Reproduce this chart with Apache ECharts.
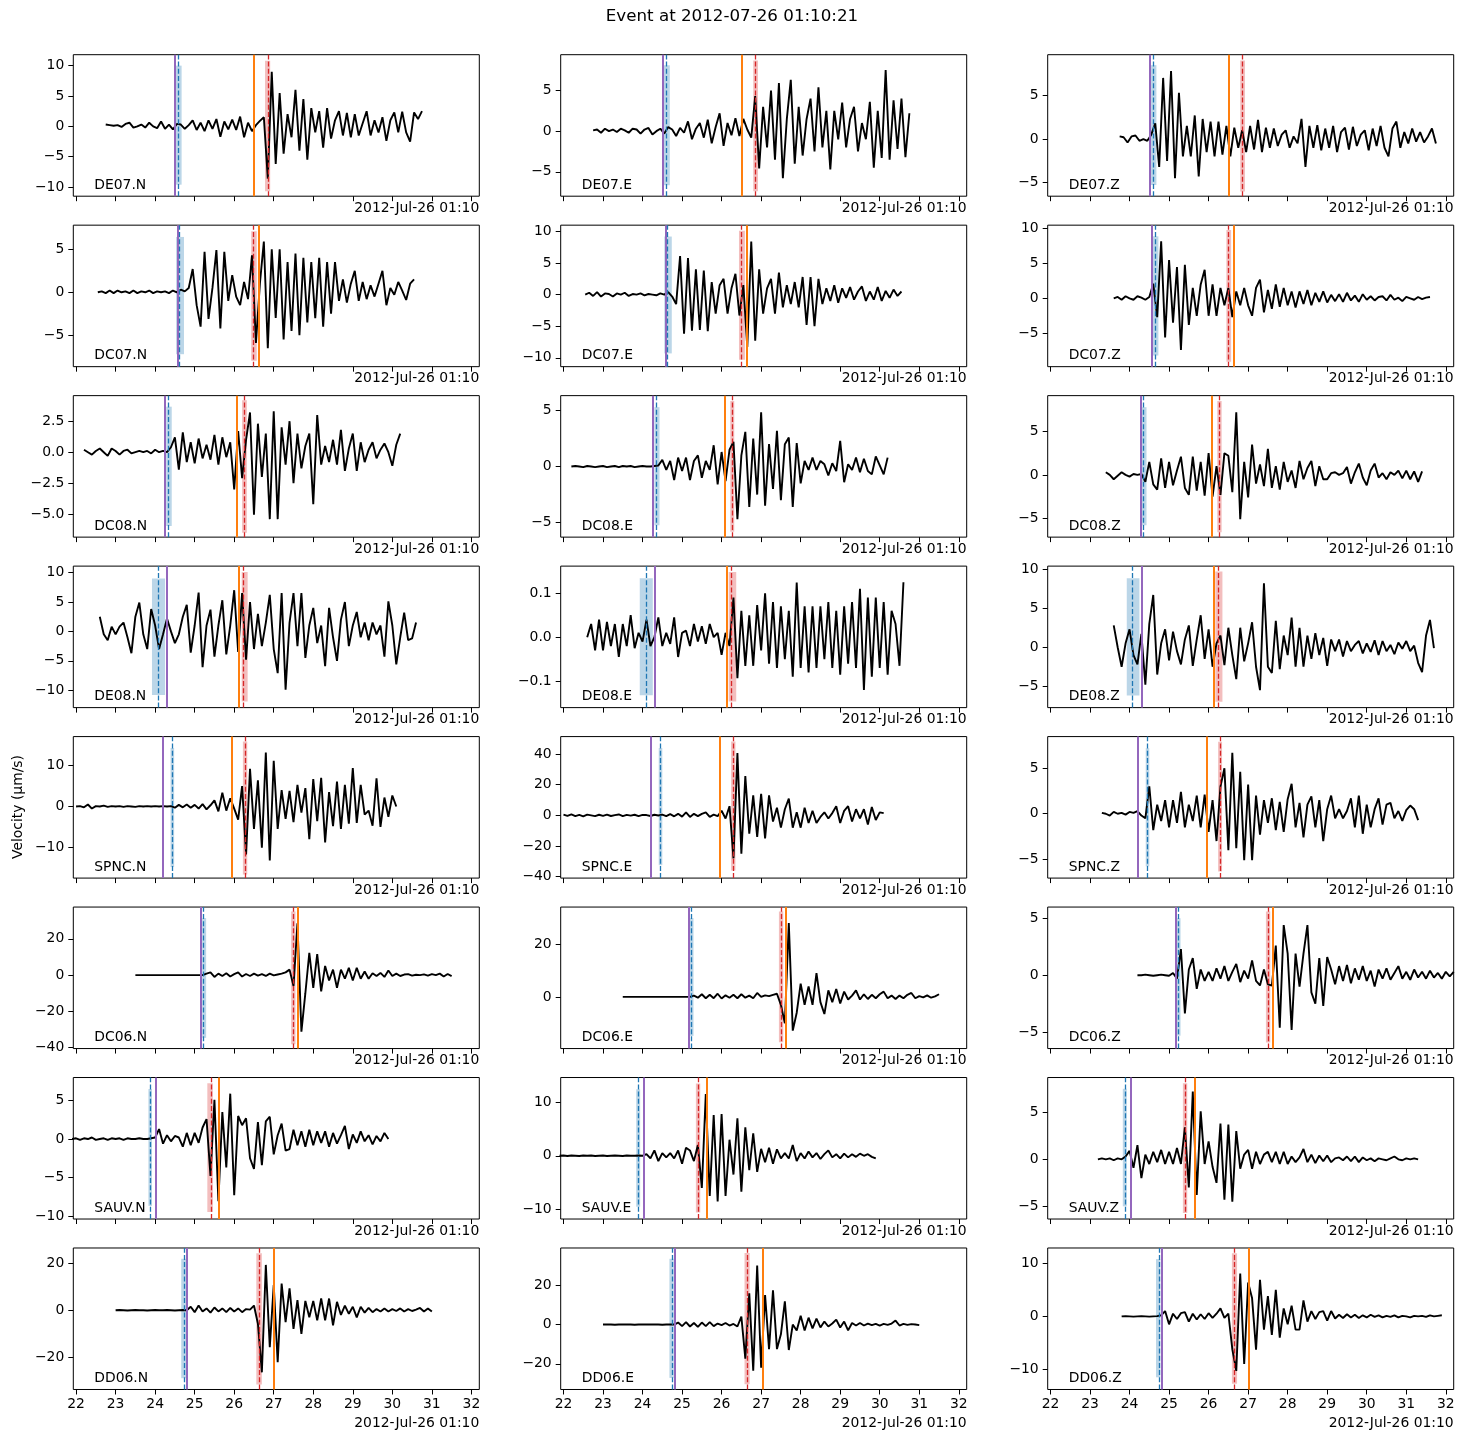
<!DOCTYPE html>
<html><head><meta charset="utf-8">
<script src="https://cdn.jsdelivr.net/npm/echarts@6/dist/echarts.min.js"></script>
<style>html,body{margin:0;padding:0;background:#fff}#chart{width:1463px;height:1441px}</style>
</head><body><div id="chart"></div>
<script>
// ---------------- DATA ----------------
const title = 'Event at 2012-07-26 01:10:21';
const offsetText = '2012-Jul-26 01:10';
const yLabel = 'Velocity (\u03bcm/s)';
const xTicks = [22,23,24,25,26,27,28,29,30,31,32];
const xRange = [21.93, 32.2];
const sampleStep = 0.1;

const stations = ['DE07.N','DE07.E','DE07.Z','DC07.N','DC07.E','DC07.Z','DC08.N','DC08.E','DC08.Z',
  'DE08.N','DE08.E','DE08.Z','SPNC.N','SPNC.E','SPNC.Z','DC06.N','DC06.E','DC06.Z',
  'SAUV.N','SAUV.E','SAUV.Z','DD06.N','DD06.E','DD06.Z'];

const traceStart = [22.75,22.75,23.75, 22.55,22.55,23.6, 22.2,22.2,23.4, 22.6,22.6,23.6,
  22.0,22.0,23.3, 23.5,23.5,24.2, 21.9,21.9,23.2, 23.0,23.0,23.8];

const yLimits = [[-11.5,11.8],[-8.0,9.4],[-6.55,9.66],[-8.65,7.8],[-11.4,11.0],[-9.8,10.5],
  [-6.85,4.56],[-6.3,6.33],[-7.17,9.13],[-12.96,11.1],[-0.16,0.1616],[-7.74,10.4],
  [-17.5,17.1],[-40.9,51.4],[-7.07,8.48],[-40.5,37.5],[-19.6,34.1],[-6.43,5.98],
  [-10.4,8.0],[-11.8,14.6],[-6.35,8.7],[-33.7,26.5],[-33.1,39.0],[-13.8,12.9]];

const yTicks = [[-10,-5,0,5,10],[-5,0,5],[-5,0,5],[-5,0,5],[-10,-5,0,5,10],[-5,0,5,10],
  [-5,-2.5,0,2.5],[-5,0,5],[-5,0,5],[-10,-5,0,5,10],[-0.1,0,0.1],[-5,0,5,10],
  [-10,0,10],[-40,-20,0,20,40],[-5,0,5],[-40,-20,0,20],[0,20],[-5,0,5],
  [-10,-5,0,5],[-10,0,10],[-5,0,5],[-20,0,20],[-20,0,20],[-10,0,10]];
const yDecimals = [0,0,0,0,0,0,1,0,0,0,1,0,0,0,0,0,0,0,0,0,0,0,0,0];

// theoretical P (purple), picked P (blue dashed), theoretical S (orange), picked S (red dashed)
const pTheo = [24.50,24.51,24.52,24.57,24.59,24.57,24.25,24.27,24.28,24.29,24.32,24.30,
  24.19,24.21,24.20,25.16,25.17,25.17,24.02,24.03,24.03,24.80,24.82,24.81];
const pPick = [24.59,24.60,24.60,24.61,24.63,24.64,24.34,24.35,24.34,24.09,24.09,24.08,
  24.44,24.45,24.44,25.22,25.23,25.23,23.88,23.89,23.89,24.74,24.75,24.75];
const sTheo = [26.50,26.51,26.51,26.63,26.64,26.63,26.06,26.09,26.07,26.12,26.13,26.13,
  25.94,25.96,25.95,27.62,27.63,27.62,25.62,25.63,25.65,27.00,27.03,27.01];
const sPick = [26.85,26.86,26.85,26.49,26.50,26.50,26.26,26.27,26.27,26.23,26.25,26.24,
  26.28,26.30,26.29,27.50,27.51,27.51,25.41,25.41,25.40,26.64,26.65,26.65];
// uncertainty boxes [t0, t1, vLow, vHigh]
const pBox = [[24.52,24.67,-9.6,10.0],[24.53,24.69,-6.65,8.1],[24.54,24.68,-5.27,8.46],
  [24.53,24.73,-7.2,6.43],[24.55,24.74,-9.3,9.2],[24.55,24.73,-8.2,8.9],
  [24.28,24.42,-5.95,3.67],[24.30,24.43,-5.24,5.3],[24.31,24.43,-5.8,7.8],
  [23.92,24.25,-10.8,9.0],[23.93,24.26,-0.132,0.134],[23.93,24.25,-6.2,8.85],
  [24.39,24.48,-14.8,14.3],[24.41,24.50,-32.5,43.9],[24.41,24.50,-5.77,7.2],
  [25.19,25.29,-34.6,31.4],[25.20,25.29,-14.8,29.9],[25.20,25.29,-5.3,5.0],
  [23.83,23.92,-8.7,6.5],[23.84,23.94,-9.5,12.4],[23.83,23.93,-5.0,7.5],
  [24.66,24.78,-28.9,21.9],[24.68,24.79,-27.2,33.5],[24.67,24.78,-11.5,10.8]];
const sBox = [[26.78,26.91,-10.7,10.8],[26.80,26.92,-7.4,8.7],[26.80,26.92,-6.0,9.0],
  [26.43,26.57,-7.95,7.1],[26.44,26.59,-10.3,10.1],[26.45,26.57,-9.1,9.8],
  [26.20,26.32,-6.5,4.18],[26.22,26.32,-5.83,5.86],[26.22,26.33,-6.6,8.5],
  [26.19,26.34,-11.9,10.1],[26.18,26.37,-0.146,0.148],[26.17,26.35,-7.0,9.7],
  [26.22,26.33,-16.6,15.9],[26.24,26.35,-35.9,48.2],[26.24,26.34,-6.35,7.9],
  [27.44,27.55,-38.1,35.1],[27.45,27.56,-17.2,32.4],[27.45,27.56,-5.9,5.6],
  [25.32,25.46,-9.48,7.24],[25.35,25.46,-10.6,13.5],[25.35,25.46,-5.7,8.1],
  [26.56,26.70,-31.6,24.3],[26.58,26.71,-30.4,36.4],[26.59,26.72,-12.7,11.9]];

// velocity samples (um/s), one every sampleStep seconds from traceStart
const DE07_N = [0.3,0.2,0.1,0.2,-0.1,0.4,0.6,-0.2,0.0,0.3,-0.2,0.6,0.0,-0.3,0.8,-0.4,0.3,-0.5,0.4,0.3,
 -0.4,0.2,1.0,-0.6,0.6,-0.8,1.0,-0.4,1.2,-1.7,0.8,-0.5,1.1,-0.6,1.6,-1.8,0.6,-0.8,0.2,0.9,
 1.5,-8.6,9.0,-6.2,5.5,-4.5,2.0,-1.8,6.0,-4.0,4.5,-5.5,3.0,-1.0,2.5,-3.5,3.0,-2.0,1.0,2.5,
 -1.5,2.2,-1.8,2.0,-1.5,0.5,2.5,-1.5,1.0,-1.0,1.5,-2.4,1.0,2.3,-1.0,2.4,-1.0,-2.5,2.3,1.2,2.5];
const DE07_E = [0.1,0.2,-0.2,0.3,0.0,0.2,-0.1,0.3,0.1,-0.2,0.3,0.2,-0.3,0.2,0.4,-0.4,0.0,0.3,-0.3,0.5,
 0.2,-0.6,0.4,-0.2,1.2,-1.0,0.3,1.0,-0.8,1.4,-1.5,0.5,2.2,-1.8,1.0,-0.5,1.6,-0.6,1.5,0.2,
 -0.8,4.3,-4.6,3.0,-2.0,5.0,-3.5,5.9,-5.8,1.5,6.3,-4.0,3.0,-3.0,1.5,4.0,-2.5,5.4,-2.0,2.5,
 -4.7,2.5,-1.0,3.5,-2.0,1.5,3.0,-2.5,1.0,-1.0,3.6,-4.5,2.5,-3.3,7.5,-3.5,3.8,-2.2,4.0,-3.2,2.2];
const DE07_Z = [0.3,0.2,-0.4,0.3,0.4,-0.2,0.0,-0.2,0.5,1.8,-3.2,7.0,-2.5,7.8,-4.5,5.3,-2.0,1.5,-2.0,2.7,
 -4.3,2.3,-1.5,2.0,-2.0,2.0,-1.8,1.5,-2.0,1.3,-1.0,1.0,-1.5,1.5,-1.2,2.2,-1.5,1.3,-1.0,1.2,
 -0.8,0.5,1.0,-1.0,0.3,-0.5,2.3,-3.2,1.5,-1.0,1.6,-1.3,1.2,-1.0,1.5,-1.5,0.8,1.3,-1.2,1.4,
 -0.8,0.5,1.0,-1.3,1.2,-0.8,1.5,-1.0,-2.0,1.2,2.0,-1.0,0.8,-0.5,1.2,-0.3,0.8,-0.4,0.3,1.2,-0.5];
const DC07_N = [0.0,0.1,-0.1,0.2,-0.1,0.2,0.0,0.1,-0.1,0.2,-0.1,0.1,0.0,0.2,-0.1,0.1,0.0,0.1,-0.1,0.2,
 0.0,0.3,0.1,0.5,2.7,-1.5,-4.0,4.7,-3.1,0.5,4.9,-4.2,4.7,-1.0,2.0,-0.5,-1.5,1.2,-0.8,4.3,
 -5.9,1.0,5.9,-6.5,5.0,-3.0,5.0,-5.5,3.5,-4.5,4.5,-5.0,4.0,-3.5,3.5,-3.0,4.0,-4.0,3.5,-2.5,
 3.5,-1.0,1.5,-1.2,1.0,2.5,-1.0,1.2,-0.8,0.8,-0.5,1.0,2.5,-1.5,0.5,-0.3,1.2,0.2,-0.9,1.0,1.5];
const DC07_E = [0.0,0.3,-0.2,0.4,-0.3,0.2,0.1,-0.3,0.2,0.0,0.3,-0.2,0.1,0.0,0.2,-0.1,0.1,0.0,-0.1,0.2,
 0.0,0.4,-0.3,-1.5,6.1,-6.2,5.8,-5.7,4.0,-5.6,3.8,-5.8,2.0,-3.0,1.5,2.5,-3.0,1.0,3.3,-3.3,
 1.5,-8.3,8.4,-7.3,4.0,-3.0,1.0,2.5,-3.0,3.5,-2.0,1.5,-1.5,2.0,-2.0,2.8,-4.8,2.8,-5.0,2.5,
 -1.5,1.0,-1.0,1.5,-1.3,1.0,-0.5,1.2,-0.8,0.5,1.3,-1.0,0.5,-0.8,1.2,-1.0,0.6,-0.5,0.8,-0.2,0.5];
const DC07_Z = [0.0,0.2,-0.2,0.3,0.0,-0.2,0.3,0.1,-0.2,0.2,2.1,-2.7,8.2,-5.6,5.5,-3.5,4.5,-7.4,4.8,-3.8,
 1.5,-2.5,2.0,4.1,-2.5,2.0,-2.5,1.5,-1.0,1.5,-2.7,1.0,-1.0,1.5,-1.0,-2.5,1.5,2.7,-2.0,1.2,
 -1.5,2.0,-1.2,1.5,-1.0,1.0,-1.3,1.0,-0.8,1.2,-1.0,0.8,-0.5,1.0,-0.6,0.5,-0.4,0.6,-0.5,0.8,
 -0.3,0.4,-0.5,0.6,-0.2,0.3,-0.3,0.2,0.3,-0.3,0.5,-0.2,0.1,-0.4,0.2,0.0,-0.2,0.2,-0.1,0.1,0.2];
const DC08_N = [0.2,0.0,-0.2,0.1,0.3,0.0,-0.3,0.3,0.1,-0.2,0.1,0.2,-0.1,0.0,0.1,0.0,0.1,-0.1,0.2,0.0,
 0.1,0.0,0.4,1.2,-1.4,1.6,-0.8,0.8,-0.9,1.1,-0.5,0.6,-0.6,1.4,-1.0,1.2,-0.4,0.8,-3.0,1.7,
 -2.1,1.0,3.2,-5.05,2.3,-2.0,1.5,-5.4,3.3,-5.4,2.0,-1.0,2.5,-2.5,1.5,-1.3,0.5,1.5,-4.2,3.0,
 -1.0,0.5,-0.8,1.0,-1.0,1.8,-1.5,0.3,1.5,-1.5,0.8,-0.8,0.2,0.8,-0.5,0.2,0.7,0.0,-1.1,0.6,1.5];
const DC08_E = [0.0,0.05,0.0,-0.05,0.05,0.0,-0.05,0.0,0.05,-0.05,0.0,0.05,-0.05,0.05,0.0,0.05,-0.05,0.0,0.05,0.0,
 0.0,0.05,0.1,0.6,-0.3,0.5,-1.2,0.8,-0.4,0.8,-1.2,0.5,1.0,-1.0,0.5,-0.3,1.9,-1.6,1.3,-1.3,
 1.5,2.2,-4.7,1.0,3.1,-3.6,2.5,-2.5,4.85,-3.5,2.0,-2.0,3.2,-3.0,2.0,2.6,-3.6,2.1,-1.5,0.5,
 -0.3,0.8,-0.3,0.5,0.2,-0.8,0.3,-0.4,2.3,-1.4,0.2,-0.3,0.8,-0.5,0.7,-0.4,-0.7,0.9,0.1,-0.7,0.8];
const DC08_Z = [0.3,0.0,-0.5,-0.1,0.3,0.0,-0.2,0.1,0.0,0.1,-0.8,1.5,-1.1,-1.7,1.9,-1.5,1.5,-1.2,0.5,2.1,
 -1.5,-2.3,2.1,-1.8,1.5,-2.4,2.5,-2.5,1.0,-2.3,2.5,2.2,-2.0,7.2,-5.1,1.5,-2.6,3.5,-1.0,1.2,
 -1.3,3.0,-1.5,1.0,-1.7,1.5,-0.8,0.5,-1.5,1.6,-0.5,0.8,1.6,-1.3,1.0,-0.5,-0.5,0.2,0.3,0.0,
 0.2,0.9,-1.0,0.3,1.3,-0.3,-1.2,0.5,1.3,-0.3,0.2,-0.5,0.3,0.0,0.5,-0.4,0.5,-0.5,0.4,-0.8,0.4];
const DE08_N = [2.5,-0.5,-1.5,0.8,-0.5,0.8,1.5,-1.0,-3.7,2.5,4.9,-0.5,-3.0,3.8,1.0,-3.0,-0.5,2.2,0.0,-2.0,
 -0.5,2.5,4.5,-3.6,1.0,6.6,-6.1,1.0,3.7,-4.3,1.0,5.3,-3.9,1.0,7.0,-3.5,6.5,-4.8,5.0,-3.0,
 3.0,-2.5,1.5,6.2,-3.0,-7.1,6.5,-9.9,1.5,6.5,-2.5,6.5,-4.5,1.0,4.0,-2.0,1.0,-5.9,4.0,-1.0,
 -5.0,2.0,5.0,-2.5,1.0,3.3,-1.0,1.5,-1.5,1.5,-0.5,1.0,-4.3,5.1,1.0,-5.6,-1.0,3.2,-1.5,-1.2,1.5];
const DE08_E = [0.0,0.03,-0.03,0.04,-0.03,0.035,-0.02,0.03,-0.045,0.03,-0.02,0.05,-0.025,0.01,-0.01,0.04,-0.02,0.0,0.045,-0.02,
 0.01,-0.015,0.045,-0.045,0.01,0.015,-0.02,0.03,-0.01,0.025,-0.015,0.03,0.0,0.01,-0.04,0.01,-0.02,0.09,-0.093,0.06,
 -0.065,0.05,-0.065,0.073,-0.03,0.1,-0.06,0.08,-0.07,0.07,-0.05,0.06,-0.09,0.124,-0.07,0.07,-0.08,0.07,-0.07,0.07,
 -0.05,0.08,-0.07,0.06,-0.085,0.07,-0.06,0.08,-0.07,0.11,-0.12,0.09,-0.09,0.09,-0.07,0.08,-0.085,0.06,0.03,-0.065,0.125];
const DE08_Z = [2.8,0.0,-2.5,0.5,2.3,-1.0,-2.2,1.7,-4.8,3.0,6.7,-3.5,0.5,2.3,-1.7,2.0,-0.5,-2.2,1.0,2.8,
 -2.4,1.0,4.1,-1.5,2.3,-2.5,0.5,1.5,-2.3,2.5,-1.0,-4.1,2.5,-1.8,0.5,3.2,-2.5,-5.5,8.2,-2.5,
 -3.3,3.4,-2.8,1.5,-1.0,3.8,-2.5,2.5,-2.5,1.5,-1.5,1.8,-1.0,1.2,-2.4,1.0,-0.5,1.0,-1.2,0.8,
 -0.5,0.3,0.8,-0.8,0.5,-0.6,0.9,-1.0,0.8,-0.5,0.3,-0.9,0.6,-0.2,0.8,-0.5,0.2,-2.0,-3.2,1.5,3.5,-0.1];
const SPNC_N = [0.0,0.1,-0.2,0.5,-0.5,0.1,0.0,0.2,-0.1,0.1,0.0,0.1,-0.1,0.1,0.0,-0.1,0.1,0.0,0.1,0.0,
 0.1,0.0,0.1,0.0,0.1,-0.3,0.4,-0.2,0.5,-0.3,0.4,-0.5,0.6,-0.7,0.3,1.5,-1.2,3.4,-1.0,2.0,
 -0.5,-3.2,5.0,-11.7,9.2,-5.5,6.4,-10.1,13.2,-13.2,11.2,-5.5,4.0,-3.0,3.8,-3.8,5.3,-1.5,4.5,-8.0,
 6.7,-3.6,7.0,-8.8,3.5,-4.8,6.1,-5.5,5.3,-4.2,9.4,-4.0,5.3,-2.0,-1.0,-4.7,6.9,-5.0,2.2,-2.5,2.7,0.0];
const SPNC_E = [0.5,-0.3,0.6,-0.5,0.3,-0.6,0.5,0.0,-0.5,0.4,-0.3,0.5,-0.4,0.2,0.6,-0.5,0.3,-0.2,0.4,-0.5,
 0.3,0.2,-0.4,0.4,-0.1,0.5,-0.5,0.8,-0.6,1.0,-0.8,2.0,-1.0,1.0,-0.5,1.0,2.0,-1.0,0.5,-0.5,
 3.0,-2.0,6.0,-28.0,40.6,-25.0,25.6,-12.0,13.0,-14.0,14.0,-15.0,13.0,-4.0,5.0,-8.0,4.0,11.0,-8.0,2.0,
 -8.0,5.0,-5.0,3.0,-5.0,-1.0,2.0,-2.0,1.5,6.0,-5.0,3.0,6.0,-4.0,4.0,-2.0,4.0,-6.0,5.5,-3.0,2.0,1.5];
const SPNC_Z = [0.1,0.0,-0.2,0.2,0.0,0.1,-0.1,0.2,0.1,0.3,-0.2,-0.5,3.0,-1.8,1.0,-0.8,1.5,-1.5,1.5,-1.0,
 2.4,-1.5,1.0,-0.8,2.0,-1.5,2.1,-2.0,1.5,-3.0,3.0,5.0,-4.0,6.7,-3.8,4.6,-5.1,3.2,-5.1,2.0,
 -2.3,1.5,-1.0,1.7,-1.8,1.3,-2.0,1.6,3.3,-1.5,1.2,-2.6,1.0,1.9,-1.5,1.5,-3.0,0.5,2.0,-0.5,
 0.5,-0.5,0.3,1.7,-1.5,2.0,-2.2,1.0,-1.5,0.5,1.7,-1.2,1.0,1.2,-0.5,0.3,-0.8,0.4,0.9,0.5,-0.7];
const DC06_N = [0,0,0,0,0,0,0,0,0,0,0,0,0,0,0,0,0,0.0,0.8,1.5,
 -1.0,0.8,-0.5,1.0,-0.8,0.5,1.5,-0.8,0.6,-0.5,0.8,-0.3,0.5,-0.5,0.8,-0.2,0.3,0.8,1.5,3.0,
 -6.0,28.6,-31.2,-10.0,12.3,-7.0,11.5,-9.0,5.0,-3.0,3.0,-7.0,3.0,-2.0,4.0,-3.0,4.0,-2.0,2.0,-2.0,
 1.0,-0.5,1.2,-1.0,2.5,-0.5,0.8,-0.5,0.3,0.5,-0.3,0.2,0.0,0.4,-0.3,0.5,0.0,0.8,-0.8,0.6,-0.6];
const DC06_E = [0,0,0,0,0,0,0,0,0,0,0,0,0,0,0,0,0,0.0,0.5,-0.3,
 1.0,-0.5,0.8,-0.5,1.2,-0.6,0.6,-0.3,0.8,-0.5,1.0,-0.3,0.5,-0.5,1.5,0.0,0.6,0.3,0.8,1.2,
 -3.0,-10.0,28.0,-12.8,-6.0,5.0,-3.0,4.0,-3.0,9.0,-2.0,-6.5,2.5,-2.0,3.0,-2.5,2.0,-1.0,0.5,2.5,
 -1.0,1.0,-0.8,0.8,-0.5,1.0,2.0,-0.5,0.5,-0.8,0.5,-0.5,0.8,1.5,-0.5,0.3,-0.2,0.6,-0.3,0.2,1.0];
const DC06_Z = [0.0,0.0,0.05,0.0,-0.05,0.0,0.05,0.0,-0.05,0.2,-0.3,2.3,-3.35,0.5,1.5,-1.2,0.5,-0.5,0.3,-0.5,
 0.6,-0.3,0.8,-0.5,0.3,1.0,-0.6,0.4,-0.3,1.3,-0.5,-0.9,0.5,-0.8,-0.9,2.6,-4.6,4.4,1.9,-4.8,
 1.9,-1.0,1.9,4.4,-1.5,-2.5,1.5,-2.7,1.6,0.5,-0.8,0.8,-0.5,0.9,-0.7,0.6,-0.4,0.8,-0.5,0.4,
 -1.0,0.5,-0.3,0.6,-0.4,0.2,0.8,-0.3,0.3,-0.4,0.5,-0.2,0.3,-0.3,0.4,-0.2,0.2,-0.3,0.3,-0.1,0.3];
const SAUV_N = [0.0,0.1,-0.1,0.1,0.0,0.2,-0.1,0.0,0.1,-0.1,0.1,0.0,0.1,-0.1,0.1,0.0,0.0,0.1,0.0,0.0,
 0.1,0.2,1.3,-0.6,0.5,-0.3,0.4,0.2,-1.0,0.8,-0.8,0.8,-0.5,1.5,2.6,-4.8,5.1,-8.1,3.5,-3.7,
 5.9,-7.3,3.0,1.8,2.7,-2.5,-3.9,2.2,-3.4,2.3,2.9,-2.0,0.5,2.0,-1.5,-1.3,1.2,-0.8,1.0,-1.0,
 1.2,-0.8,1.0,-0.5,1.0,-1.0,0.8,-0.6,0.5,1.7,-1.3,0.6,-0.5,1.0,-0.3,0.5,-0.7,0.4,-0.3,0.8,0.0];
const SAUV_E = [0.0,0.05,-0.05,0.05,0.0,-0.05,0.05,0.0,0.05,-0.05,0.0,0.05,-0.05,0.0,0.05,0.0,-0.05,0.05,0.0,0.0,
 0.05,0.0,0.3,-0.5,1.0,-1.0,0.5,-0.3,0.5,-0.5,1.0,-1.5,1.5,1.0,-1.0,2.0,-6.0,11.5,-7.5,7.6,
 -8.5,7.8,-7.5,3.0,-3.5,7.0,-6.7,5.3,-2.7,4.2,-3.0,1.3,-1.2,1.5,-1.5,1.2,-0.5,0.5,-0.5,2.0,
 -1.0,0.5,-0.5,0.8,-0.3,0.5,-0.6,0.3,1.0,-0.3,0.3,-0.5,0.4,-0.3,0.3,-0.2,0.4,0.0,0.3,-0.2,-0.5];
const SAUV_Z = [0.0,0.1,0.0,0.1,-0.1,0.1,0.0,0.3,0.9,-0.9,1.5,-2.0,0.5,-0.5,0.8,-0.3,1.0,-0.5,0.8,-0.5,
 1.2,-0.5,3.4,-3.0,7.2,-3.8,5.1,-0.5,1.9,-0.8,-2.5,3.8,-4.3,3.7,-4.5,3.0,-1.0,0.5,1.0,-1.0,
 0.8,-0.5,0.5,0.8,-0.3,0.8,-0.5,0.8,-0.5,0.3,-0.3,0.2,1.1,-0.3,0.5,-0.4,0.4,-0.2,0.4,-0.3,
 0.1,0.2,-0.1,0.3,-0.2,0.3,-0.3,0.2,-0.1,0.1,-0.2,0.1,0.0,-0.1,0.1,0.3,0.0,-0.1,0.1,0.0,0.1,0.0];
const DD06_N = [0,0.1,0,-0.1,0,0.1,0,0,-0.1,0,0.1,0,0,0.1,0,-0.1,0,0.1,0.0,1.5,
 -0.8,2.0,-0.5,0.8,-1.0,1.2,-0.5,0.8,-0.8,1.0,-0.5,0.8,-0.8,0.5,0.3,2.0,-5.7,-26.4,19.3,-15.7,
 10.7,-22.1,11.4,-5.0,9.3,-7.9,4.3,-10.0,4.0,-3.0,4.0,-4.3,5.0,-4.3,5.0,-6.4,3.6,-2.0,2.0,-1.5,
 1.5,-3.0,1.5,-1.0,1.0,-0.8,0.5,-0.5,0.8,-0.5,0.5,-0.3,0.8,-0.5,0.5,-0.3,0.3,1.0,-0.5,0.8,-0.5];
const DD06_E = [0,0.1,0,-0.1,0,0.1,0,0,-0.1,0,0.1,0,0,0.1,0,-0.1,0,0.1,0.0,1.0,
 -0.8,1.2,-1.0,0.8,-1.2,1.0,-0.8,1.2,-0.8,0.5,-0.3,0.8,-0.5,0.3,-1.0,4.0,-17.4,15.9,-23.5,30.1,
 -22.0,15.0,-12.5,17.4,-12.5,-5.0,11.8,-13.0,0.0,-3.0,4.5,-3.0,3.5,-2.0,3.0,-1.5,1.5,-1.0,0.5,2.5,
 -1.5,1.5,-3.0,0.8,-0.5,0.8,-0.5,0.5,-0.3,0.3,-0.5,0.3,-0.2,0.5,2.0,-0.5,0.3,-0.2,0.2,0.0,-0.3];
const DD06_Z = [0,0.05,0,-0.05,0,0.05,0,-0.05,0,0.05,0.2,1.0,-1.5,0.5,-0.5,0.6,0.8,-1.0,0.5,-0.6,
 0.4,-0.5,0.6,-0.3,0.5,1.5,-0.3,0.5,-6.2,-10.3,8.1,-9.0,6.4,3.4,-6.3,6.9,-2.5,3.8,-3.5,5.0,
 -4.0,1.5,-1.5,2.0,-2.5,-2.5,3.0,-1.0,1.0,-0.5,0.8,1.0,-0.8,1.0,-0.4,0.3,-0.3,0.4,-0.2,0.3,
 -0.3,0.2,-0.2,0.3,-0.1,0.2,-0.2,0.1,-0.1,0.2,-0.2,0.1,0.0,-0.2,0.1,0.0,0.1,-0.1,0.2,0.0,0.1,0.2];

const traces = [DE07_N,DE07_E,DE07_Z,DC07_N,DC07_E,DC07_Z,DC08_N,DC08_E,DC08_Z,DE08_N,DE08_E,DE08_Z,
  SPNC_N,SPNC_E,SPNC_Z,DC06_N,DC06_E,DC06_Z,SAUV_N,SAUV_E,SAUV_Z,DD06_N,DD06_E,DD06_Z];

// ---------------- LAYOUT / STYLE ----------------
const FONT = '"DejaVu Sans", "Liberation Sans", sans-serif';
const FS = 13.9;
const colLeft = [73.3, 560.7, 1047.7];
const plotW = 406, plotH = 141.5, rowTop0 = 54.7, rowPitch = 170.47;
const C_PT = '#9467bd', C_PP = '#1f77b4', C_ST = '#ff7f0e', C_SP = '#d62728';

const grids = [], xAxes = [], yAxes = [], series = [], graphics = [];
const fmtMinus = s => s.replace('-', '\u2212');

for (let k = 0; k < stations.length; k++) {
  const r = Math.floor(k / 3), c = k % 3;
  const L = colLeft[c], T = rowTop0 + r * rowPitch, B = T + plotH;
  const bottomRow = (r === 7);
  grids.push({left: L, top: T, width: plotW, height: plotH, show: true,
    borderColor: '#000', borderWidth: 1, backgroundColor: 'transparent'});
  xAxes.push({type: 'value', gridIndex: k, min: xRange[0], max: xRange[1], position: 'bottom',
    axisLine: {show: false, onZero: false}, splitLine: {show: false},
    axisTick: {show: true, length: 5, customValues: xTicks, lineStyle: {color: '#000', width: 1}},
    axisLabel: {show: bottomRow, customValues: xTicks, color: '#000', fontSize: FS, fontFamily: FONT, margin: 8}});
  const dec = yDecimals[k];
  yAxes.push({type: 'value', gridIndex: k, min: yLimits[k][0], max: yLimits[k][1], position: 'left',
    axisLine: {show: false, onZero: false}, splitLine: {show: false},
    axisTick: {show: true, length: 5, customValues: yTicks[k], lineStyle: {color: '#000', width: 1}},
    axisLabel: {show: true, customValues: yTicks[k], color: '#000', fontSize: FS, fontFamily: FONT, margin: 9,
      formatter: v => fmtMinus(dec > 0 ? Number(v).toFixed(dec) : String(Math.round(v)))}});
  const t0 = traceStart[k];
  const data = traces[k].map((v, i) => [Math.round((t0 + i * sampleStep) * 1000) / 1000, v]);
  const pb = pBox[k], sb = sBox[k];
  series.push({
    type: 'line', xAxisIndex: k, yAxisIndex: k, data: data, showSymbol: false, symbol: 'none',
    lineStyle: {color: '#000', width: 1.9}, z: 3, silent: true, animation: false,
    markArea: {silent: true, animation: false, z: 1,
      data: [
        [{xAxis: pb[0], yAxis: pb[2], itemStyle: {color: 'rgba(31,119,180,0.3)'}}, {xAxis: pb[1], yAxis: pb[3]}],
        [{xAxis: sb[0], yAxis: sb[2], itemStyle: {color: 'rgba(214,39,40,0.3)'}}, {xAxis: sb[1], yAxis: sb[3]}]
      ]},
    markLine: {silent: true, animation: false, symbol: ['none', 'none'], label: {show: false},
      emphasis: {disabled: true}, z: 5,
      data: [
        {xAxis: pTheo[k], lineStyle: {color: C_PT, width: 2, type: 'solid'}},
        {xAxis: pPick[k], lineStyle: {color: C_PP, width: 1.3, type: [5, 2.2]}},
        {xAxis: sTheo[k], lineStyle: {color: C_ST, width: 2, type: 'solid'}},
        {xAxis: sPick[k], lineStyle: {color: C_SP, width: 1.3, type: [5, 2.2]}}
      ]}
  });
  graphics.push({type: 'text', x: L + 21, y: B - 11, silent: true,
    style: {text: stations[k], fill: '#000', font: FS + 'px ' + FONT, align: 'left', verticalAlign: 'middle'}});
  graphics.push({type: 'text', x: L + plotW, y: B + (bottomRow ? 34 : 12), silent: true,
    style: {text: offsetText, fill: '#000', font: FS + 'px ' + FONT, align: 'right', verticalAlign: 'middle'}});
}
graphics.push({type: 'text', x: 732, y: 17, silent: true,
  style: {text: title, fill: '#000', font: '16.7px ' + FONT, align: 'center', verticalAlign: 'middle'}});
graphics.push({type: 'text', x: 18, y: 807, rotation: Math.PI / 2, silent: true,
  style: {text: yLabel, fill: '#000', font: FS + 'px ' + FONT, align: 'center', verticalAlign: 'middle'}});

const chart = echarts.init(document.getElementById('chart'), null, {renderer: 'canvas'});
chart.setOption({
  animation: false, backgroundColor: '#fff',
  grid: grids, xAxis: xAxes, yAxis: yAxes, series: series, graphic: graphics
});
</script></body></html>
